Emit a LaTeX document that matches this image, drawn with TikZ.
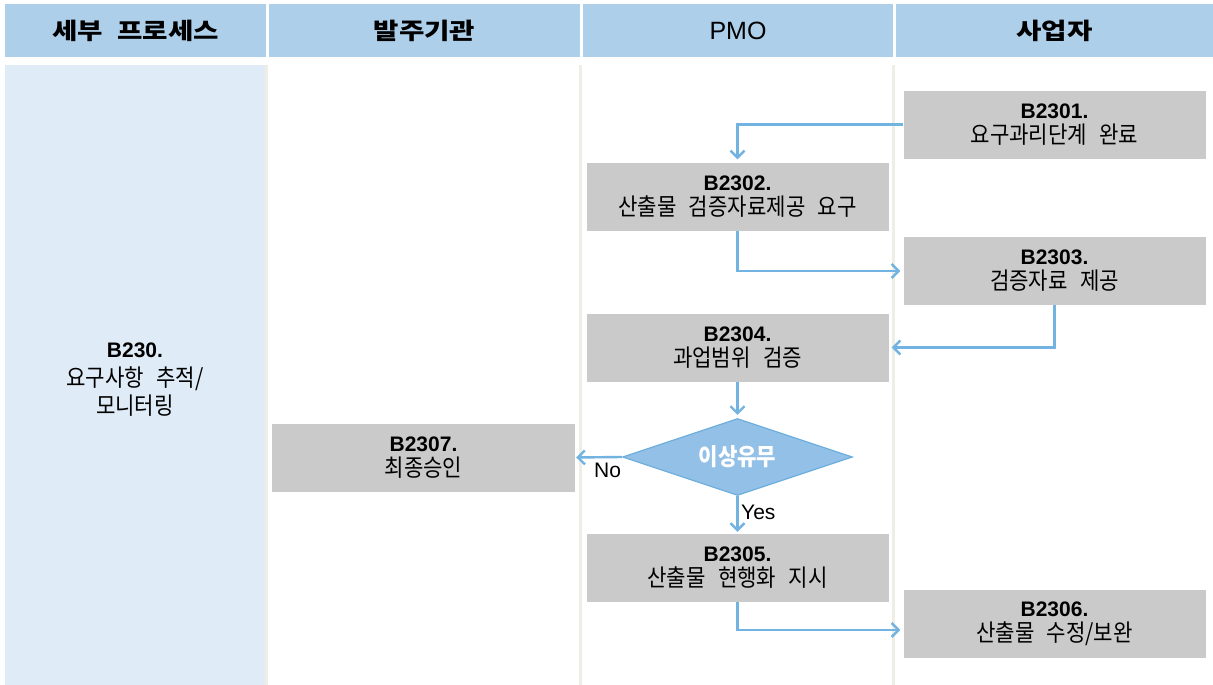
\documentclass[tikz,border=0pt]{standalone}
\usepackage{fontspec}
\setmainfont{Liberation Sans}
\newfontfamily\kr{Noto Sans CJK KR}[Scale=1.13, FakeStretch=0.89, WordSpace=2.6]
\newfontfamily\krh{Noto Sans CJK KR}[FakeStretch=1.2, WordSpace=2.3]
\usetikzlibrary{arrows.meta,shapes.geometric}
\definecolor{hdr}{HTML}{ADCFEA}
\definecolor{lane}{HTML}{DFEBF7}
\definecolor{boxg}{HTML}{CACACA}
\definecolor{arr}{HTML}{72B3E2}
\definecolor{sep}{HTML}{EEEEE4}
\definecolor{dia}{HTML}{92C0E6}
\definecolor{diab}{HTML}{6EAEDD}
\begin{document}
\begin{tikzpicture}[x=1pt,y=-1pt,
  stepbox/.style={fill=boxg, minimum width=302pt, minimum height=68pt, inner sep=0pt, align=center, font=\fontsize{21}{25}\selectfont},
  hdrcell/.style={fill=hdr, inner sep=0pt, minimum height=53pt, font=\fontsize{23}{28}\selectfont},
  flow/.style={draw=arr, line width=2.4pt, shorten >=3pt, -{Straight Barb[length=7pt,width=14pt]}},
  lbl/.style={font=\fontsize{21}{25}\selectfont, inner sep=0pt},
  sepline/.style={draw=sep, line width=3pt},
]
\useasboundingbox (0,0) rectangle (1213,685);
\fill[white] (0,0) rectangle (1213,685);
% headers
\node[hdrcell, minimum width=261pt] (h1) at (135.5,30.5) {\krh\bfseries 세부 프로세스};
\node[hdrcell, minimum width=311pt] (h2) at (424.5,30.5) {\krh\bfseries 발주기관};
\node[hdrcell, minimum width=310pt] (h3) at (738,30.5) {\fontsize{25}{28}\selectfont PMO};
\node[hdrcell, minimum width=317pt] (h4) at (1054.5,30.5) {\krh\bfseries 사업자};
% lanes
\fill[lane] (5,65) rectangle (265,685);
\draw[sepline] (266.5,65) -- (266.5,685);
\draw[sepline] (580,65) -- (580,685);
\draw[sepline] (893.5,65) -- (893.5,685);
\node[align=center, inner sep=0pt, font=\fontsize{21}{28.5}\selectfont] (b230) at (135,380) {\textbf{B230.}\\{\kr 요구사항 추적/}\\{\kr 모니터링}};
% steps
\node[stepbox] (b2301) at (1054.5,124.5) {\textbf{B2301.}\\{\kr 요구과리단계 완료}};
\node[stepbox] (b2302) at (737.5,196.5) {\textbf{B2302.}\\{\kr 산출물 검증자료제공 요구}};
\node[stepbox] (b2303) at (1054.5,271) {\textbf{B2303.}\\{\kr 검증자료 제공}};
\node[stepbox] (b2304) at (737.5,347.5) {\textbf{B2304.}\\{\kr 과업범위 검증}};
\node[stepbox, minimum width=303pt] (b2307) at (423.5,457.5) {\textbf{B2307.}\\{\kr 최종승인}};
\node[diamond, shape aspect=3, fill=dia, draw=diab, line width=1.2pt, minimum width=230pt, minimum height=77pt, inner sep=0pt, text=white, font=\fontsize{21}{25}\selectfont] (d) at (737.5,457) {\kr\bfseries 이상유무};
\node[stepbox] (b2305) at (737.5,568) {\textbf{B2305.}\\{\kr 산출물 현행화 지시}};
\node[stepbox] (b2306) at (1054.5,623.5) {\textbf{B2306.}\\{\kr 산출물 수정/보완}};
% connectors
\draw[flow] (b2301.west) -| (b2302.north);
\draw[flow] (b2302.south) |- (b2303.west);
\draw[flow] (b2303.south) |- (b2304.east);
\draw[flow] (b2304.south) -- (d.north);
\draw[flow, shorten >=1pt] (d.west) -- (b2307.east);
\node[lbl, anchor=west] (no) at (594,470) {No};
\draw[flow, shorten >=2pt] (d.south) -- (b2305.north);
\node[lbl, anchor=west] (yes) at (741,512) {Yes};
\coordinate (c6) at ([yshift=-6.5pt]b2306.west);
\draw[flow] (b2305.south) |- (c6);
\end{tikzpicture}
\end{document}
